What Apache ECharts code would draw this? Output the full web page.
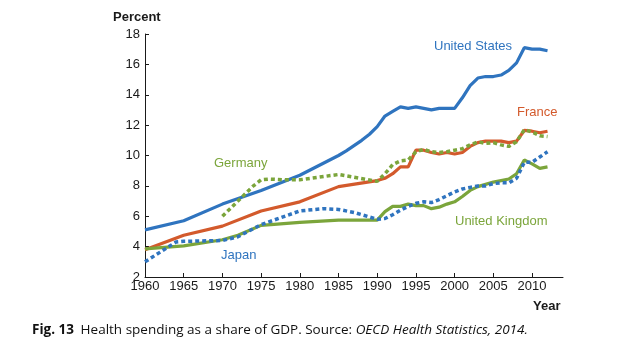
<!DOCTYPE html>
<html>
<head>
<meta charset="utf-8">
<script src="https://cdn.jsdelivr.net/npm/echarts@6/dist/echarts.min.js"></script>
<style>
  html, body { margin: 0; padding: 0; background: #fff; }
  #main { width: 636px; height: 352px; }
</style>
</head>
<body>
<div id="main"></div>
<script>
// data (percent of GDP)
var usYears = [1960,1965,1970,1975,1980,1985,1986,1987,1988,1989,1990,1991,1992,1993,1994,1995,1996,1997,1998,1999,2000,2001,2002,2003,2004,2005,2006,2007,2008,2009,2010,2011,2012];
var usVals  = [5.1,5.7,6.8,7.7,8.7,10.0,10.3,10.65,11.0,11.4,11.9,12.6,12.9,13.2,13.1,13.2,13.1,13.0,13.1,13.1,13.1,13.8,14.6,15.1,15.2,15.2,15.3,15.6,16.1,17.1,17.0,17.0,16.9];

var frYears = [1960,1965,1970,1975,1980,1985,1990,1991,1992,1993,1994,1995,1996,1997,1998,1999,2000,2001,2002,2003,2004,2005,2006,2007,2008,2009,2010,2011,2012];
var frVals  = [3.8,4.75,5.35,6.35,6.95,7.95,8.35,8.5,8.8,9.25,9.25,10.35,10.35,10.2,10.1,10.2,10.1,10.2,10.6,10.85,10.95,10.95,10.95,10.85,10.95,11.65,11.6,11.5,11.6];

var ukYears = [1960,1965,1970,1972,1975,1980,1985,1990,1991,1992,1993,1994,1995,1996,1997,1998,1999,2000,2001,2002,2003,2004,2005,2006,2007,2008,2009,2010,2011,2012];
var ukVals  = [3.85,4.05,4.45,4.75,5.4,5.6,5.75,5.75,6.3,6.65,6.65,6.8,6.7,6.7,6.5,6.6,6.8,6.95,7.3,7.7,7.95,8.1,8.25,8.35,8.45,8.8,9.7,9.45,9.15,9.25];

var deYears = [1970,1971,1972,1973,1974,1975,1976,1978,1980,1985,1990,1991,1992,1993,1994,1995,1996,1997,1998,1999,2000,2001,2002,2003,2004,2005,2006,2007,2008,2009,2010,2011,2012];
var deVals  = [6.0,6.5,7.0,7.5,8.0,8.4,8.45,8.4,8.4,8.75,8.3,8.8,9.4,9.65,9.7,10.25,10.4,10.25,10.2,10.25,10.35,10.45,10.7,10.9,10.8,10.85,10.7,10.6,10.9,11.7,11.55,11.3,11.25];

var jpYears = [1960,1964,1965,1970,1972,1975,1980,1983,1985,1987,1990,1991,1992,1993,1994,1995,1996,1997,1998,1999,2000,2001,2002,2003,2004,2005,2006,2007,2008,2009,2010,2011,2012];
var jpVals  = [3.0,4.3,4.35,4.4,4.65,5.45,6.35,6.5,6.45,6.25,5.8,5.85,6.1,6.4,6.65,6.85,6.95,6.9,7.1,7.35,7.6,7.8,7.9,8.0,8.0,8.15,8.2,8.2,8.5,9.55,9.55,9.9,10.25];

var xTicks = [1960,1965,1970,1975,1980,1985,1990,1995,2000,2005,2010];

var blue = '#2f74bf', orange = '#d35a2c', green = '#7ba53b';

function pairs(xs, ys) {
	var out = [];
	for (var i = 0; i < xs.length; i++) out.push([xs[i], ys[i]]);
	return out;
}

function line(name, xs, ys, color, dashed) {
	return {
		name: name,
		type: 'line',
		data: pairs(xs, ys),
		showSymbol: false,
		silent: true,
		lineStyle: { color: color, width: dashed ? 3.5 : 3.2, type: dashed ? [4, 3] : 'solid', cap: 'butt' }
	};
}

var myChart = echarts.init(document.getElementById('main'));
var font = 'Liberation Sans, Arial, sans-serif';
var capFont = '"Open Sans", sans-serif';

var option = {
	animation: false,
	textStyle: { fontFamily: font },
	grid: { left: 145, top: 34, right: 73, bottom: 75 },
	xAxis: {
		type: 'value',
		min: 1960,
		max: 2014,
		axisLine: { lineStyle: { color: '#1a1a1a', width: 1 } },
		axisTick: { inside: true, length: 4, customValues: xTicks, lineStyle: { color: '#1a1a1a' } },
		axisLabel: { customValues: xTicks, formatter: function(v){ return String(v); }, color: '#1a1a1a', fontSize: 13, margin: 3, fontFamily: font },
		splitLine: { show: false }
	},
	yAxis: {
		type: 'value',
		min: 2,
		max: 18,
		interval: 2,
		axisLine: { show: true, lineStyle: { color: '#1a1a1a', width: 1 } },
		axisTick: { show: true, inside: true, length: 4, lineStyle: { color: '#1a1a1a' } },
		axisLabel: { color: '#1a1a1a', fontSize: 13, margin: 5, fontFamily: font },
		splitLine: { show: false }
	},
	series: [
		line('United States', usYears, usVals, blue, false),
		line('France', frYears, frVals, orange, false),
		line('United Kingdom', ukYears, ukVals, green, false),
		line('Germany', deYears, deVals, green, true),
		line('Japan', jpYears, jpVals, blue, true)
	],
	graphic: [
		{ type: 'text', left: 113, top: 11, style: { text: 'Percent', font: 'bold 13px ' + font, fill: '#1a1a1a' } },
		{ type: 'text', left: 533, top: 300, style: { text: 'Year', font: 'bold 13px ' + font, fill: '#1a1a1a' } },
		{ type: 'text', left: 434, top: 40, style: { text: 'United States', font: '13px ' + font, fill: blue } },
		{ type: 'text', left: 517, top: 106, style: { text: 'France', font: '13px ' + font, fill: orange } },
		{ type: 'text', left: 214, top: 157, style: { text: 'Germany', font: '13px ' + font, fill: green } },
		{ type: 'text', left: 455, top: 215, style: { text: 'United Kingdom', font: '13px ' + font, fill: green } },
		{ type: 'text', left: 221, top: 249, style: { text: 'Japan', font: '13px ' + font, fill: blue } },
		{ type: 'text', left: 32, top: 323, style: {
			text: '{b|Fig. 13}  {r|Health spending as a share of GDP. Source: }{i|OECD Health Statistics, 2014.}',
			rich: {
				b: { font: 'bold 13.5px ' + capFont, fill: '#111' },
				r: { font: '13.5px ' + capFont, fill: '#111' },
				i: { font: 'italic 13.5px ' + capFont, fill: '#111' }
			}
		} }
	]
};
myChart.setOption(option);
</script>
</body>
</html>
